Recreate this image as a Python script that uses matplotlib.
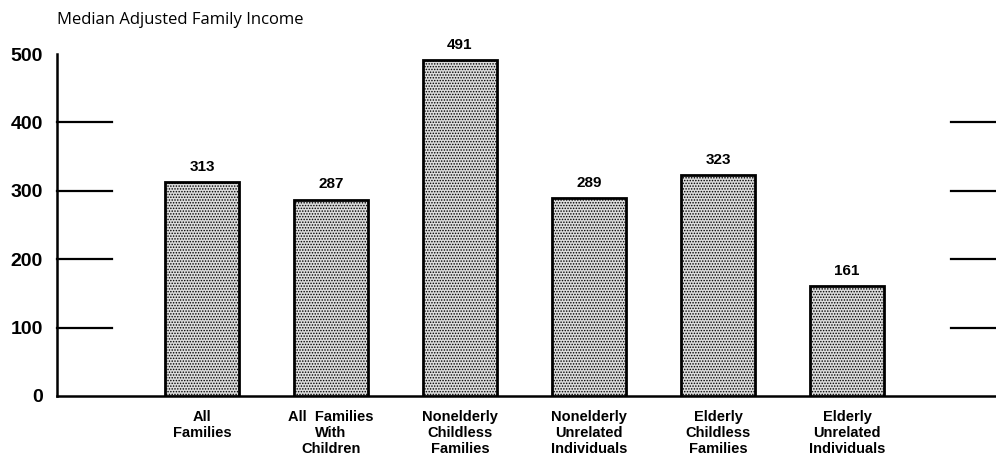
import matplotlib
matplotlib.use('Agg')
import matplotlib.pyplot as plt
import numpy as np

plt.rcParams['font.family'] = ['Liberation Sans', 'DejaVu Sans']
plt.rcParams['hatch.linewidth'] = 0.7

categories = ['All\nFamilies', 'All  Families\nWith\nChildren', 'Nonelderly\nChildless\nFamilies',
              'Nonelderly\nUnrelated\nIndividuals', 'Elderly\nChildless\nFamilies',
              'Elderly\nUnrelated\nIndividuals']
values = [313, 287, 491, 289, 323, 161]
yticks = [0, 100, 200, 300, 400, 500]

fig = plt.figure(figsize=(9.96, 4.71), dpi=100)
ax = fig.add_axes([57 / 996, 1 - 396 / 471, 1 - 57 / 996, (396 - 54) / 471])

x = np.arange(len(values))
ax.bar(x, values, width=0.58, facecolor='#dcdcdc', edgecolor='black',
       linewidth=2, hatch='......', zorder=3)

for xi, v in zip(x, values):
    ax.text(xi, v + 12, str(v), ha='center', va='bottom', fontsize=11, fontweight='bold')

ax.set_xlim(-1.124, 6.155)
ax.set_ylim(0, 500)

# stub lines at the gridline positions
xl, xr = ax.get_xlim()
for t in yticks[1:-1]:
    ax.plot([xl, -0.70], [t, t], color='black', lw=1.6, clip_on=False)
    ax.plot([5.806, xr], [t, t], color='black', lw=1.6, clip_on=False)

for s in ['top', 'right']:
    ax.spines[s].set_visible(False)
ax.spines['left'].set_linewidth(1.8)
ax.spines['bottom'].set_linewidth(1.8)

ax.set_yticks(yticks)
ax.set_yticklabels([str(t) for t in yticks], fontsize=14, fontweight='bold')
ax.tick_params(axis='y', length=0, pad=10)
ax.set_xticks(x)
ax.set_xticklabels(categories, fontsize=10.5, fontweight='bold', linespacing=1.2)
ax.tick_params(axis='x', length=0, pad=10)

fig.text(57 / 996, 1 - 20 / 471, 'Median Adjusted Family Income', fontsize=12,
         family=['Open Sans', 'DejaVu Sans'], ha='left', va='center')

fig.savefig('out.png', dpi=100)
